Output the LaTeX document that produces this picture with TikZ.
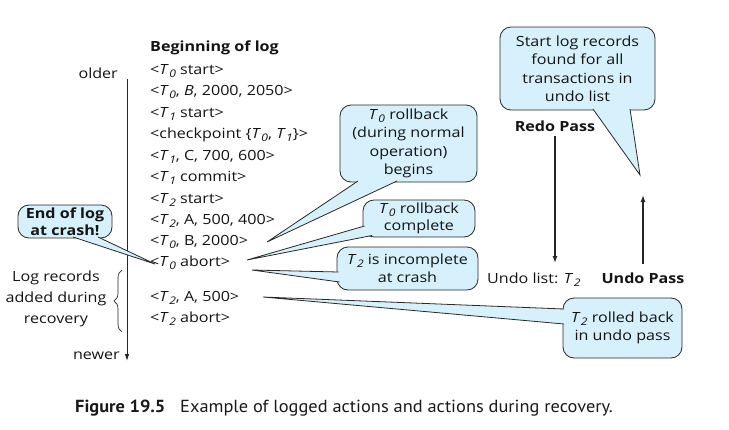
\documentclass[tikz,border=0pt]{standalone}
\usepackage{fontspec}
\setmainfont[FakeStretch=1.15]{Open Sans}
\newfontfamily\capfont[FakeStretch=1.05]{PT Sans}
\usetikzlibrary{arrows.meta,decorations.pathreplacing}
\definecolor{callfill}{RGB}{214,241,251}
\definecolor{callline}{RGB}{40,40,40}
\newcommand\Tn[1]{\textit{T}\kern0.03em\raisebox{-0.38ex}{\fontsize{10.5pt}{10pt}\selectfont\textit{#1}}}
\begin{document}
\begin{tikzpicture}[x=1pt,y=-1pt,
  font=\fontsize{14pt}{18.5pt}\selectfont,
  logtext/.style={anchor=west, inner sep=0pt, text=black!92},
  plain/.style={inner sep=0pt, text=black!92},
  callbox/.style={draw=callline, fill=callfill, rounded corners=11pt, align=center,
    line width=0.8pt, inner sep=0pt, text=black!92},
  tailline/.style={draw=callline, fill=callfill, line width=0.8pt, line join=miter},
  passarrow/.style={draw=black!85, line width=1.3pt, -{Latex[length=7pt,width=5pt]}}
]
\useasboundingbox (0,0) rectangle (729,429);

% timeline
\node[plain, anchor=east] (older) at (118,73) {older};
\node[plain, anchor=east] (newer) at (120,356) {newer};
\coordinate (tltop) at (127,79);
\coordinate (tlbot) at (127,361);
\draw[line width=0.9pt, draw=black!85, -{Latex[length=7pt,width=4.5pt]}] (tltop) -- (tlbot);

% log records
\node[logtext, font=\fontsize{14pt}{17pt}\selectfont\bfseries] (l0) at (150,48) {Beginning of log};
\node[logtext] (l1) at (150,71) {<\Tn{0} start>};
\node[logtext] (l2) at (150,92) {<\Tn{0}, \textit{B}, 2000, 2050>};
\node[logtext] (l3) at (150,114) {<\Tn{1} start>};
\node[logtext] (l4) at (150,135) {<checkpoint \{\Tn{0}, \Tn{1}\}>};
\node[logtext] (l5) at (150,157) {<\Tn{1}, C, 700, 600>};
\node[logtext] (l6) at (150,178) {<\Tn{1} commit>};
\node[logtext] (l7) at (150,200) {<\Tn{2} start>};
\node[logtext] (l8) at (150,221) {<\Tn{2}, A, 500, 400>};
\node[logtext] (l9) at (150,242) {<\Tn{0}, B, 2000>};
\node[logtext] (l10) at (150,263) {<\Tn{0} abort>};
\node[logtext] (l11) at (150,298) {<\Tn{2}, A, 500>};
\node[logtext] (l12) at (150,319) {<\Tn{2} abort>};

% brace and recovery label
\coordinate (brtop) at (122,270);
\coordinate (brbot) at (122,332);
\draw[line width=0.7pt, draw=black!85, decorate, decoration={brace, amplitude=8pt}] (brbot) -- (brtop);
\node[plain, align=center, font=\fontsize{14pt}{21pt}\selectfont] (rec) at (56,299) {Log records\\added during\\recovery};

% end of log callout
\node[callbox, minimum width=94pt, minimum height=33pt, font=\fontsize{14pt}{17pt}\selectfont\bfseries] (eol) at (65,221.5) {End of log\\at crash!};
\coordinate (eoltip) at (155,264);
\filldraw[tailline] (73,237) -- (eoltip) -- (98,237);

% T0 rollback begins
\node[callbox, minimum width=137pt, minimum height=77pt] (c1) at (408.5,143.5) {\Tn{0} rollback\\(during normal\\operation)\\begins};
\coordinate (c1tip) at (267,242);
\filldraw[tailline] (358,181) -- (c1tip) -- (397,181);

% T0 rollback complete
\node[callbox, minimum width=112pt, minimum height=37pt, font=\fontsize{14pt}{17pt}\selectfont] (c2) at (419,218.5) {\Tn{0} rollback\\complete};
\coordinate (c2tip) at (247,260);
\filldraw[tailline] (364.5,226) -- (c2tip) -- (372,235.5);

% T2 incomplete
\node[callbox, minimum width=141pt, minimum height=43pt, font=\fontsize{14pt}{18pt}\selectfont] (c3) at (407.5,268.5) {\Tn{2} is incomplete\\at crash};
\coordinate (c3tip) at (252,270);
\filldraw[tailline] (338.5,272) -- (c3tip) -- (339.5,282);

% T2 rolled back
\node[callbox, minimum width=119pt, minimum height=60pt] (c4) at (622.5,328) {\Tn{2} rolled back\\in undo pass};
\coordinate (c4tip) at (263,297);
\filldraw[tailline] (564,309) -- (c4tip) -- (564,324);

% Start log records
\node[callbox, minimum width=155pt, minimum height=83pt] (c5) at (577.5,68.5) {Start log records\\found for all\\transactions in\\undo list};
\coordinate (c5tip) at (640,175);
\filldraw[tailline] (593,109) -- (c5tip) -- (630,109);

% passes
\node[plain, font=\fontsize{14pt}{17pt}\selectfont\bfseries] (redo) at (555,126) {Redo Pass};
\coordinate (redostart) at (555,136);
\coordinate (redoend) at (555,263);
\draw[passarrow] (redostart) -- (redoend);
\node[plain, anchor=west] (undolist) at (487,280) {Undo list: \Tn{2}};
\node[plain, font=\fontsize{14pt}{17pt}\selectfont\bfseries] (undo) at (643,278) {Undo Pass};
\coordinate (undostart) at (643,264);
\coordinate (undoend) at (643,195);
\draw[passarrow] (undostart) -- (undoend);

% caption
\node[anchor=west, inner sep=0pt, text=black!90, font=\capfont\fontsize{17.5pt}{19pt}\selectfont\bfseries] (fig) at (75,408) {Figure 19.5};
\node[anchor=west, inner sep=0pt, text=black!90, font=\capfont\fontsize{17.5pt}{19pt}\selectfont] (cap) at (180,408) {Example of logged actions and actions during recovery.};
\end{tikzpicture}
\end{document}
